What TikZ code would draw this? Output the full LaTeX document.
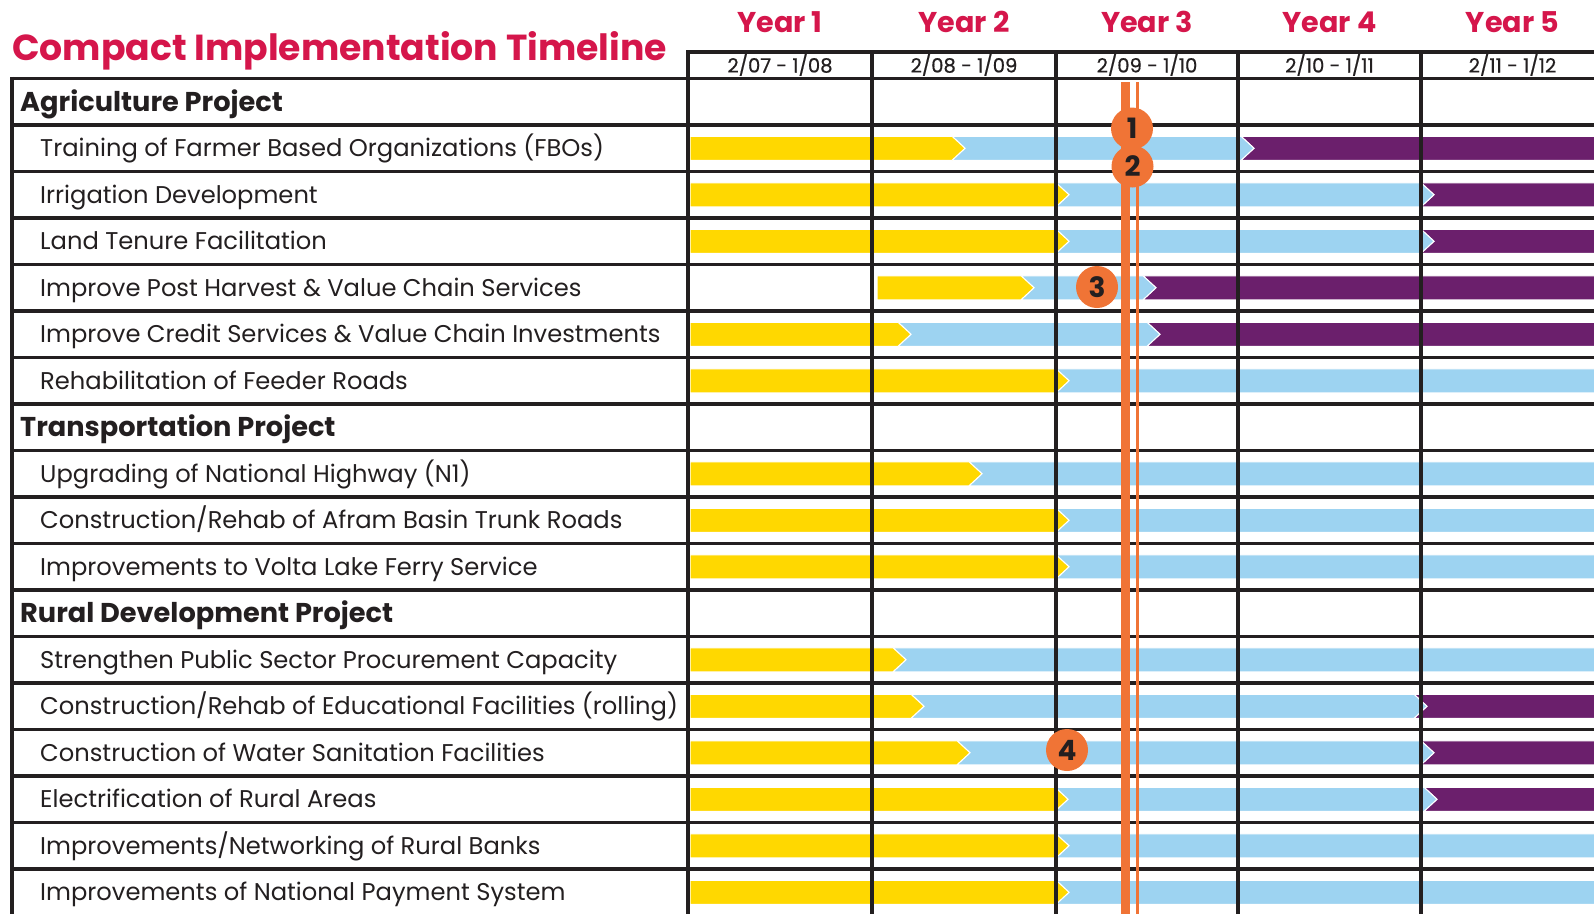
\documentclass[tikz,border=0pt]{standalone}
\usepackage{fontspec}
\setmainfont{Poppins}
\definecolor{crim}{HTML}{D5164B}
\definecolor{ink}{HTML}{231F20}
\definecolor{yel}{HTML}{FFD800}
\definecolor{sky}{HTML}{9DD3F1}
\definecolor{plum}{HTML}{6B1F6C}
\definecolor{org}{HTML}{F07436}
\tikzset{
  gridline/.style={draw=ink, line width=3.3bp},
  segment/.style={draw=white, line width=1bp},
  itemtext/.style={anchor=base west, inner sep=0pt, text=ink, font=\fontsize{24.2bp}{28bp}\selectfont},
  grouptext/.style={anchor=base west, inner sep=0pt, text=ink, font=\bfseries\fontsize{27.2bp}{31bp}\selectfont},
  datetext/.style={anchor=base, inner sep=0pt, text=ink, font=\addfontfeature{FakeBold=0.6}\fontsize{19.6bp}{23bp}\selectfont},
  yeartext/.style={anchor=base, inner sep=0pt, text=crim, font=\bfseries\fontsize{28.6bp}{32bp}\selectfont},
  badge/.style={circle, fill=org, minimum size=42bp, inner sep=0pt, text=ink, font=\bfseries\fontsize{28bp}{32bp}\selectfont},
}
\begin{document}
\begin{tikzpicture}[x=1bp, y=-1bp]
\clip (0,0) rectangle (1594,913);
\fill[white] (0,0) rectangle (1594,913);
% bars
\foreach \k/\xs/\xy/\xb in {1/690/952/1241, 2/690/1056/1421, 3/690/1056/1421, 4/877/1021/1143, 5/690/898/1147, 6/690/1056/1700,
  8/690/969/1700, 9/690/1056/1700, 10/690/1056/1700,
  12/690/893/1700, 13/690/911/1414, 14/690/957/1421, 15/690/1055/1424, 16/690/1056/1700, 17/690/1056/1700}{
  \pgfmathsetmacro{\yc}{101.75+46.5*\k}
  \pgfmathsetmacro{\yt}{\yc-12}
  \pgfmathsetmacro{\yb}{\yc+12}
  \filldraw[segment, fill=plum] (\xb,\yt) -- (1750,\yt) -- (1750,\yb) -- (\xb,\yb) -- (\xb+13,\yc) -- cycle;
  \filldraw[segment, fill=sky] (\xy,\yt) -- (\xb,\yt) -- (\xb+13,\yc) -- (\xb,\yb) -- (\xy,\yb) -- (\xy+13,\yc) -- cycle;
  \filldraw[segment, fill=yel] (\xs,\yt) -- (\xy,\yt) -- (\xy+13,\yc) -- (\xy,\yb) -- (\xs,\yb) -- cycle;
}
% grid
\foreach \k in {0,...,17}{
  \draw[gridline] (12,78.5+46.5*\k) -- (1600,78.5+46.5*\k);
}
\draw[gridline] (688,52) -- (1600,52);
\draw[gridline] (12,76.8) -- (12,920);
\foreach \x in {688,872,1056,1238,1421}{
  \draw[gridline] (\x,50.3) -- (\x,920);
}
% milestone lines
\fill[org] (1121,82) rectangle (1130,920);
\fill[org] (1135.5,82) rectangle (1139,920);
% badges
\node[badge] (m1) at (1132,128.5) {1};
\node[badge] (m2) at (1132.5,166.5) {2};
\node[badge] (m3) at (1097,287) {3};
\node[badge] (m4) at (1067,750) {4};
% title and headers
\node[anchor=base west, inner sep=0pt, text=crim, font=\bfseries\fontsize{36.2bp}{42bp}\selectfont] (title) at (12,60) {Compact Implementation Timeline};
\foreach \i/\cx in {1/780, 2/964, 3/1147, 4/1329.5, 5/1512.5}{
  \node[yeartext] (y\i) at (\cx,32.3) {Year \i};
}
\node[datetext] (d1) at (780,72.5) {2/07 - 1/08};
\node[datetext] (d2) at (964,72.5) {2/08 - 1/09};
\node[datetext] (d3) at (1147,72.5) {2/09 - 1/10};
\node[datetext] (d4) at (1329.5,72.5) {2/10 - 1/11};
\node[datetext] (d5) at (1512.5,72.5) {2/11 - 1/12};
% row labels
\node[grouptext] (g0) at (20,111.2) {Agriculture Project};
\node[itemtext] (r1) at (40,156.6) {Training of Farmer Based Organizations (FBOs)};
\node[itemtext] (r2) at (40,203.1) {Irrigation Development};
\node[itemtext] (r3) at (40,249.6) {Land Tenure Facilitation};
\node[itemtext] (r4) at (40,296.1) {Improve Post Harvest \& Value Chain Services};
\node[itemtext] (r5) at (40,342.6) {Improve Credit Services \& Value Chain Investments};
\node[itemtext] (r6) at (40,389.1) {Rehabilitation of Feeder Roads};
\node[grouptext] (g7) at (20,436.7) {Transportation Project};
\node[itemtext] (r8) at (40,482.1) {Upgrading of National Highway (N1)};
\node[itemtext] (r9) at (40,528.6) {Construction/Rehab of Afram Basin Trunk Roads};
\node[itemtext] (r10) at (40,575.1) {Improvements to Volta Lake Ferry Service};
\node[grouptext] (g11) at (20,622.2) {Rural Development Project};
\node[itemtext] (r12) at (40,668.1) {Strengthen Public Sector Procurement Capacity};
\node[itemtext] (r13) at (40,714.6) {Construction/Rehab of Educational Facilities (rolling)};
\node[itemtext] (r14) at (40,761.1) {Construction of Water Sanitation Facilities};
\node[itemtext] (r15) at (40,807.6) {Electrification of Rural Areas};
\node[itemtext] (r16) at (40,854.1) {Improvements/Networking of Rural Banks};
\node[itemtext] (r17) at (40,900.6) {Improvements of National Payment System};
\end{tikzpicture}
\end{document}
